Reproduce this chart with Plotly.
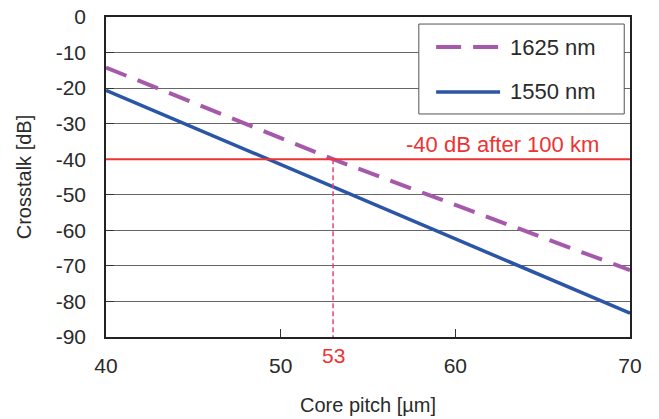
import plotly.graph_objects as go

# Core pitch (µm) and crosstalk (dB) for each wavelength
pitch = [40, 53, 70]
xt_1625 = [-14.2, -40.0, -71.2]
xt_1550 = [-20.6, -47.8, -83.3]
series_names = ["1625 nm", "1550 nm"]

limit_db = -40
limit_label = "-40 dB after 100 km"
pitch_at_limit = 53

x_ticks = [40, 50, 60, 70]
y_ticks = [0, -10, -20, -30, -40, -50, -60, -70, -80, -90]
y_tick_text = ["0", "-10", "-20", "-30", "-40", "-50", "-60", "-70", "-80", "-90"]

PURPLE = "#a659aa"
BLUE = "#2b55a6"
RED = "#ee3333"
PINK = "#e8407a"
TEXT = "#2a2a2a"
FONT = "Liberation Sans, Arial, sans-serif"

fig = go.Figure()
fig.add_trace(go.Scatter(x=pitch, y=xt_1625, mode="lines", name=series_names[0],
                         line=dict(color=PURPLE, width=4, dash="22px,12px"),
                         showlegend=False))
fig.add_trace(go.Scatter(x=pitch, y=xt_1550, mode="lines", name=series_names[1],
                         line=dict(color=BLUE, width=3.5), showlegend=False))

# -40 dB threshold line
fig.add_shape(type="line", xref="paper", x0=0, x1=1, yref="y", y0=limit_db, y1=limit_db,
              line=dict(color=RED, width=2), layer="above")
# required pitch marker
fig.add_shape(type="line", xref="x", x0=pitch_at_limit, x1=pitch_at_limit,
              yref="y", y0=limit_db, y1=-90,
              line=dict(color=PINK, width=1.5, dash="5px,3px"), layer="above")

fig.add_annotation(x=62.7, y=limit_db, xref="x", yref="y", text=limit_label,
                   showarrow=False, xanchor="center", yanchor="bottom", yshift=0,
                   font=dict(family=FONT, size=22, color=RED))
fig.add_annotation(x=pitch_at_limit, y=0, xref="x", yref="paper", text=str(pitch_at_limit),
                   showarrow=False, xanchor="center", yanchor="middle", yshift=-18,
                   font=dict(family=FONT, size=21, color=RED))

# legend box drawn in paper coordinates
fig.add_shape(type="rect", xref="paper", yref="paper", x0=0.597, x1=0.989, y0=0.697, y1=0.978,
              line=dict(color="#555555", width=1), fillcolor="white", layer="above")
fig.add_shape(type="line", xref="paper", yref="paper", x0=0.630, x1=0.752, y0=0.906, y1=0.906,
              line=dict(color=PURPLE, width=4, dash="25px,12px"), layer="above")
fig.add_shape(type="line", xref="paper", yref="paper", x0=0.630, x1=0.752, y0=0.766, y1=0.766,
              line=dict(color=BLUE, width=3.5), layer="above")
for name, yy in zip(series_names, [0.906, 0.766]):
    fig.add_annotation(x=0.768, y=yy, xref="paper", yref="paper", text=name, showarrow=False,
                       xanchor="left", yanchor="middle",
                       font=dict(family=FONT, size=22, color=TEXT))

fig.update_layout(
    width=659, height=419,
    margin=dict(l=106, r=29, t=17, b=82),
    paper_bgcolor="white", plot_bgcolor="white",
    font=dict(family=FONT, color=TEXT),
)
fig.update_xaxes(range=[40, 70], tickvals=x_ticks, ticks="inside", ticklen=8,
                 tickcolor="#333333", showgrid=False, zeroline=False, automargin=False,
                 showline=True, linecolor="#222222", linewidth=1.5, mirror=True,
                 tickfont=dict(family=FONT, size=21, color=TEXT), ticklabelstandoff=9,
                 title=dict(text="Core pitch [µm]", font=dict(family=FONT, size=20, color=TEXT),
                            standoff=22))
fig.update_yaxes(range=[-90, 0], tickvals=y_ticks, ticktext=y_tick_text, ticks="inside",
                 ticklen=8, tickcolor="#333333", showgrid=True, gridcolor="#666666",
                 gridwidth=1, zeroline=False, showline=True, linecolor="#222222",
                 linewidth=1.5, mirror=True, automargin=False,
                 tickfont=dict(family=FONT, size=21, color=TEXT), ticklabelstandoff=14,
                 title=dict(text="Crosstalk [dB]", font=dict(family=FONT, size=20, color=TEXT),
                            standoff=19))

fig.write_html("out.html")
